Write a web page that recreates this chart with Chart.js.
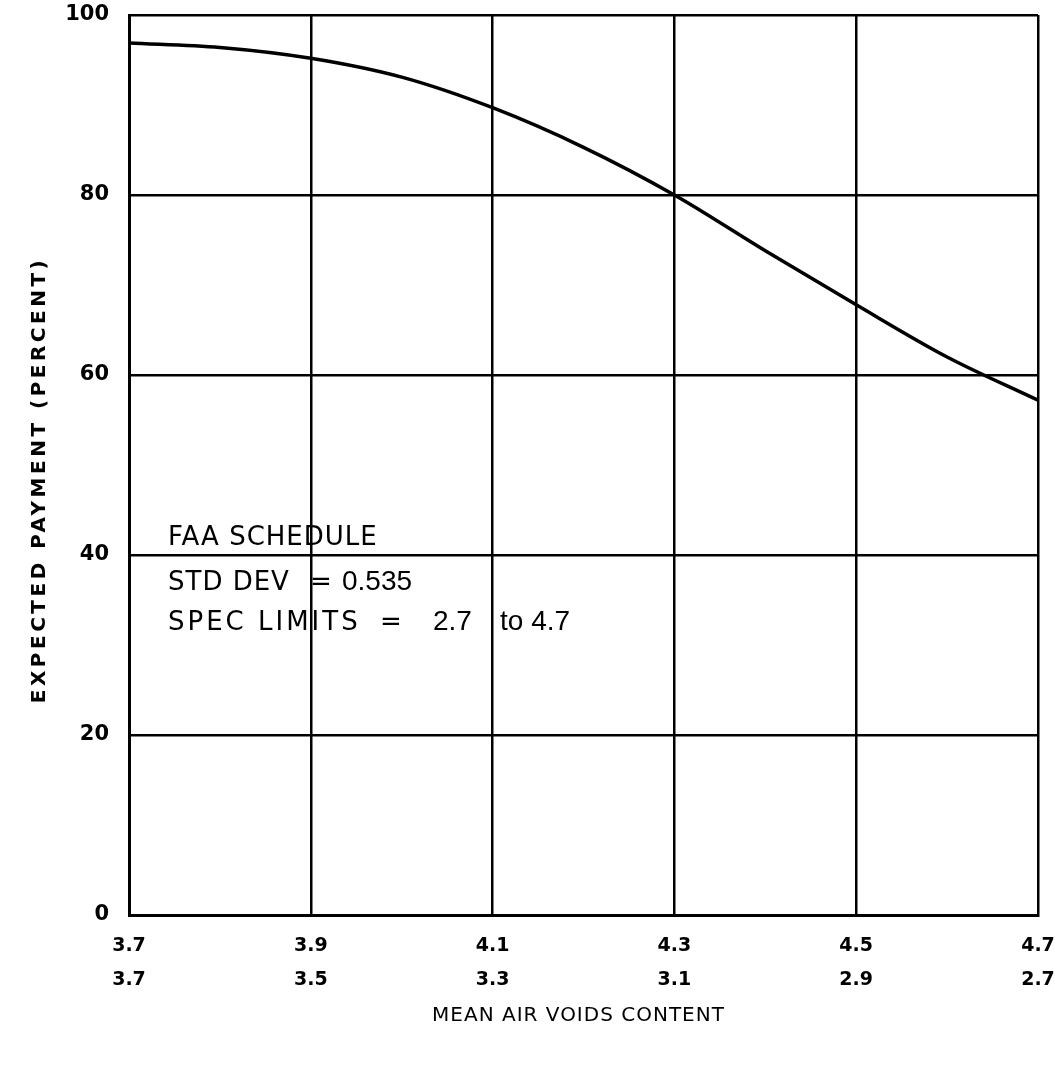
<!DOCTYPE html>
<html>
<head>
<meta charset="utf-8">
<script src="https://cdn.jsdelivr.net/npm/chart.js@4"></script>
<style>
  html, body { margin: 0; padding: 0; background: #fff; }
  #wrap { width: 1055px; height: 1081px; }
</style>
</head>
<body>
<div id="wrap"><canvas id="chart" width="1055" height="1081"></canvas></div>
<script>
// mean air voids (top axis row) and expected payment
const meanVoids = [3.7, 3.8, 3.9, 4.0, 4.1, 4.2, 4.3, 4.4, 4.5, 4.6, 4.7];
const payment = [96.9, 96.4, 95.2, 93.1, 89.7, 85.3, 80.0, 73.8, 67.8, 62.0, 57.2];

const xTicks = ['3.7', '3.9', '4.1', '4.3', '4.5', '4.7'];
const xTicksLower = ['3.7', '3.5', '3.3', '3.1', '2.9', '2.7'];

const xTitle = 'MEAN AIR VOIDS CONTENT';
const yTitle = 'EXPECTED PAYMENT (PERCENT)';

const noteLines = [
  ['FAA SCHEDULE'],
  ['STD DEV', '=', '0.535'],
  ['SPEC LIMITS', '=', '2.7', 'to 4.7']
];

const notePlugin = {
  id: 'notes',
  afterDraw(chart) {
    const { ctx, chartArea } = chart;
    const L = chartArea.left;
    const mid = (chartArea.left + chartArea.right) / 2;
    const midY = (chartArea.top + chartArea.bottom) / 2;
    ctx.save();
    ctx.fillStyle = '#000';
    ctx.textBaseline = 'alphabetic';

    // annotation block
    ctx.font = '26px "DejaVu Sans"';
    ctx.letterSpacing = '1px';
    ctx.fillText(noteLines[0][0], L + 39, 545);
    ctx.fillText(noteLines[1][0], L + 39, 590);
    ctx.fillText(noteLines[1][1], L + 181, 590);
    ctx.letterSpacing = '3px';
    ctx.fillText(noteLines[2][0], L + 39, 630);
    ctx.letterSpacing = '0px';
    ctx.fillText(noteLines[2][1], L + 251, 630);
    ctx.font = '28px "Liberation Sans"';
    ctx.fillText(noteLines[1][2], L + 213, 590);
    ctx.fillText(noteLines[2][2], L + 304, 630);
    ctx.fillText(noteLines[2][3], L + 371, 630);

    // axis titles
    ctx.font = '20px "DejaVu Sans"';
    ctx.textAlign = 'center';
    ctx.textBaseline = 'middle';
    ctx.letterSpacing = '1px';
    ctx.fillText(xTitle, mid - 5, 1016);
    ctx.save();
    ctx.translate(40, midY + 15);
    ctx.rotate(-Math.PI / 2);
    ctx.font = 'bold 20px "DejaVu Sans"';
    ctx.letterSpacing = '3.5px';
    ctx.fillText(yTitle, 0, 0);
    ctx.restore();
    ctx.restore();
  }
};

new Chart(document.getElementById('chart'), {
  type: 'line',
  data: {
    datasets: [{
      data: meanVoids.map((x, i) => ({ x: x, y: payment[i] })),
      borderColor: '#000',
      borderWidth: 3.5,
      pointRadius: 0,
      cubicInterpolationMode: 'monotone',
      fill: false
    }]
  },
  options: {
    responsive: false,
    animation: false,
    layout: { padding: { top: 15, right: 17, left: 0, bottom: 0 } },
    plugins: { legend: { display: false }, tooltip: { enabled: false } },
    scales: {
      x: {
        type: 'linear',
        min: 3.7,
        max: 4.7,
        afterBuildTicks(scale) {
          scale.ticks = xTicks.map(v => ({ value: parseFloat(v) }));
        },
        afterFit(scale) {
          scale.height = 166;
          scale.paddingLeft = 0;
          scale.paddingRight = 0;
        },
        grid: { color: '#000', lineWidth: 2.5, drawTicks: false },
        border: { color: '#000', width: 3 },
        ticks: {
          padding: 14,
          color: '#000',
          font: { family: 'DejaVu Sans', size: 19, weight: 'bold', lineHeight: '34px' },
          callback(value, i) { return [xTicks[i], xTicksLower[i]]; }
        }
      },
      y: {
        min: 0,
        max: 100,
        ticks: {
          stepSize: 20,
          padding: 20,
          color: '#000',
          font: { family: 'DejaVu Sans', size: 21, weight: 'bold' }
        },
        afterFit(scale) {
          scale.width = 129;
          scale.paddingTop = 0;
          scale.paddingBottom = 0;
        },
        grid: { color: '#000', lineWidth: 2.5, drawTicks: false },
        border: { color: '#000', width: 3 }
      }
    }
  },
  plugins: [notePlugin]
});
</script>
</body>
</html>
